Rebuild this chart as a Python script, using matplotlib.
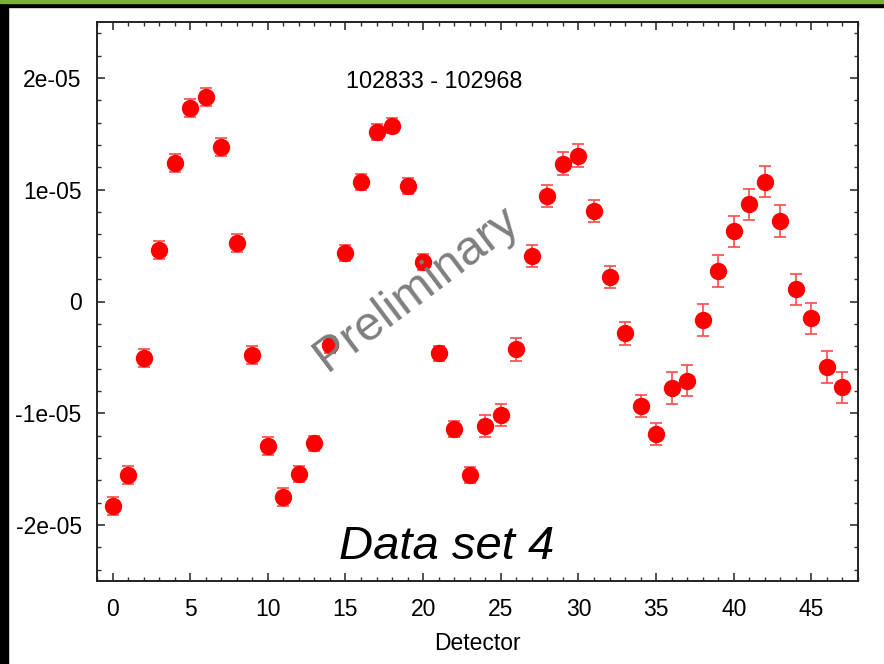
import matplotlib
matplotlib.use("Agg")
from matplotlib import pyplot as plt
from matplotlib.patches import Rectangle
import numpy as np

plt.rcParams['font.family'] = ['Liberation Sans', 'DejaVu Sans']

detector = np.arange(48)
# asymmetry values, units of 1e-6
asym = [-18.30, -15.53, -5.03, 4.58, 12.39, 17.32, 18.30, 13.85, 5.23, -4.79,
        -12.93, -17.52, -15.44, -12.69, -3.89, 4.31, 10.69, 15.14, 15.73, 10.34,
        3.53, -4.64, -11.38, -15.53, -11.14, -10.18, -4.28, 4.07, 9.44, 12.33,
        13.05, 8.07, 2.17, -2.85, -9.33, -11.88, -7.74, -7.09, -1.66, 2.73,
        6.28, 8.70, 10.72, 7.20, 1.09, -1.50, -5.86, -7.68]
err = [0.8] * 12 + [0.7] * 12 + [1.0] * 12 + [1.4] * 12

run_label = '102833 - 102968'
set_label = 'Data set 4'

y = np.array(asym) * 1e-6
yerr = np.array(err) * 1e-6

fig = plt.figure(figsize=(8.84, 6.64), dpi=100)
ax = fig.add_axes([97/884, 1-581/664, (858-97)/884, (581-22)/664])

ax.errorbar(detector, y, yerr=yerr, fmt='none', ecolor='#ff4a4a',
            elinewidth=1.2, capsize=4.3, capthick=1.2, zorder=2)
ax.plot(detector, y, 'o', color='red', markersize=11.5, zorder=3)

ax.set_xlim(-1, 48)
ax.set_ylim(-2.5e-5, 2.5e-5)
ax.set_xticks(np.arange(0, 46, 5))
ax.set_xticks(np.arange(-1, 49, 1), minor=True)
yt = np.arange(-2e-5, 2.01e-5, 1e-5)
ax.set_yticks(yt)
ax.set_yticklabels(['-2e-05', '-1e-05', '0', '1e-05', '2e-05'])
ax.set_yticks(np.arange(-2.4e-5, 2.41e-5, 2e-6), minor=True)
ax.tick_params(which='both', direction='in', top=True, right=True,
               labelsize=16.5, color='#333333')
ax.tick_params(which='major', length=6, width=1.2)
ax.tick_params(which='minor', length=3, width=1.0)
ax.tick_params(axis='y', pad=11)
ax.tick_params(axis='x', pad=12)
for s in ax.spines.values():
    s.set_linewidth(1.4)
    s.set_color('#222222')

ax.set_xlabel('Detector', fontsize=16.5, labelpad=8)

ax.text(0.443, 0.893, run_label, transform=ax.transAxes, fontsize=16.8,
        ha='center', va='center')
ax.text(0.46, 0.06, set_label, transform=ax.transAxes, fontsize=34,
        style='italic', ha='center', va='center')
ax.text(0.42, 0.522, 'Preliminary', transform=ax.transAxes, fontsize=35,
        color='#7f7f7f', rotation=37, ha='center', va='center', zorder=5)

# slide frame: black left edge, green/black strip on top
fig.patches.append(Rectangle((0, 0), 8/884, 1, transform=fig.transFigure,
                             color='black', zorder=0))
fig.patches.append(Rectangle((0, 1-7/664), 1, 7/664, transform=fig.transFigure,
                             color='black', zorder=0))
fig.patches.append(Rectangle((0, 1-2.5/664), 1, 2.5/664, transform=fig.transFigure,
                             color='#7ab03a', zorder=1))

fig.savefig('out.png', dpi=100)
